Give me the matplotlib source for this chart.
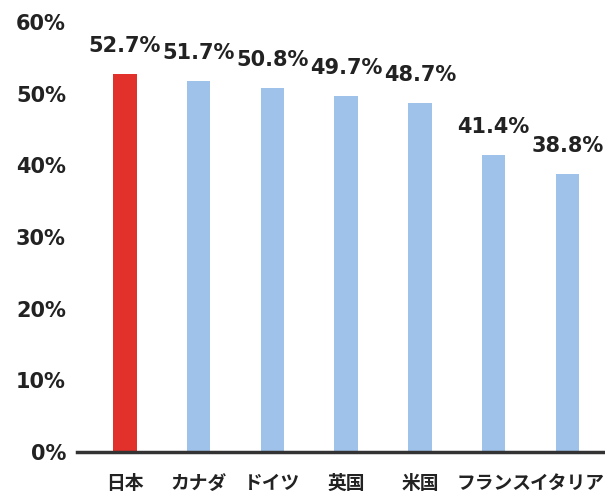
import matplotlib.pyplot as plt
import numpy as np

plt.rcParams['font.family'] = ['DejaVu Sans', 'Noto Sans CJK JP']

countries = ['日本', 'カナダ', 'ドイツ', '英国', '米国', 'フランス', 'イタリア']
values = [52.7, 51.7, 50.8, 49.7, 48.7, 41.4, 38.8]
yticks = [0, 10, 20, 30, 40, 50, 60]

colors = ['#e2302a'] + ['#9fc2ea'] * (len(values) - 1)

fig = plt.figure(figsize=(6.05, 4.97), dpi=100)
ax = fig.add_axes([77/605, 45/497, 528/605, 430/497])

x = np.arange(len(values))
ax.bar(x, values, width=0.32, color=colors)

for xi, v in zip(x, values):
    ax.annotate('%.1f%%' % v, (xi, v), xytext=(0, 13), textcoords='offset points',
                ha='center', va='bottom', fontsize=15, fontweight='bold', color='#222222')

ax.set_xlim(-0.65, 6.51)
ax.set_ylim(0, 60)
ax.set_yticks(yticks)
ax.set_yticklabels(['%d%%' % t for t in yticks], fontsize=15, fontweight='bold', color='#222222')
ax.set_xticks(x)
ax.set_xticklabels(countries, fontsize=13.5, fontweight='bold', color='#222222',
                   family=['Noto Sans CJK JP'])
ax.get_xticklabels()[-1].set_x(6.0)
ax.tick_params(axis='both', length=0)
ax.tick_params(axis='y', pad=8)
ax.tick_params(axis='x', pad=16)

for s in ['top', 'right', 'left']:
    ax.spines[s].set_visible(False)
ax.spines['bottom'].set_linewidth(2.5)
ax.spines['bottom'].set_color('#333333')

fig.savefig('out.png', dpi=100)
